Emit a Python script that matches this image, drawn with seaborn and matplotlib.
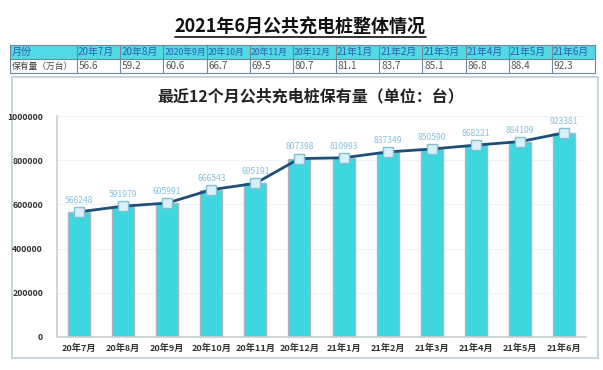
import numpy as np
import matplotlib
matplotlib.use("Agg")
import matplotlib.pyplot as plt
import seaborn as sns
from matplotlib.patches import Rectangle

# ---- data ----
table_months = ['20年7月', '20年8月', '2020年9月', '20年10月', '20年11月', '20年12月',
                '21年1月', '21年2月', '21年3月', '21年4月', '21年5月', '21年6月']
table_values = ['56.6', '59.2', '60.6', '66.7', '69.5', '80.7',
                '81.1', '83.7', '85.1', '86.8', '88.4', '92.3']
chart_months = ['20年7月', '20年8月', '20年9月', '20年10月', '20年11月', '20年12月',
                '21年1月', '21年2月', '21年3月', '21年4月', '21年5月', '21年6月']
chart_values = [566248, 591979, 605991, 666543, 695191, 807398,
                810993, 837349, 850590, 868221, 884109, 923381]
y_ticks = [0, 200000, 400000, 600000, 800000, 1000000]

sns.set_theme(style="white")
plt.rcParams['font.family'] = ['Noto Sans CJK SC', 'DejaVu Sans']

W, H = 603, 370
fig = plt.figure(figsize=(W / 100, H / 100), dpi=100)

# background layer in pixel coordinates: title, table, chart frame
bg = fig.add_axes([0, 0, 1, 1], zorder=0)
bg.set_xlim(0, W)
bg.set_ylim(H, 0)
bg.axis('off')

title = bg.text(300, 27, '2021年6月公共充电桩整体情况', ha='center', va='center',
                fontsize=13, fontweight='bold', color='#111111')

# table
cyan = '#52D9E6'
line_c = '#6F8A96'
col_edges = np.concatenate([[10], np.linspace(77, 595, 13)])
row_top, row_mid, row_bot = 45, 59, 73
bg.add_patch(Rectangle((10, row_top), 585, row_mid - row_top, facecolor=cyan, edgecolor='none'))
for x in col_edges:
    bg.plot([x, x], [row_top, row_bot], color=line_c, lw=0.8)
for y in (row_top, row_mid, row_bot):
    bg.plot([10, 595], [y, y], color=line_c, lw=0.8)

bg.text(col_edges[0] + 2, (row_top + row_mid) / 2, '月份', ha='left', va='center',
        fontsize=7.2, color='#2F5FB0')
bg.text(col_edges[0] + 2, (row_mid + row_bot) / 2, '保有量（万台）', ha='left', va='center',
        fontsize=6.3, color='#444444')
for i, (m, v) in enumerate(zip(table_months, table_values)):
    x0 = col_edges[i + 1] + 1
    bg.text(x0, (row_top + row_mid) / 2, m, ha='left', va='center',
            fontsize=7.1 if len(m) < 6 else 6.3, color='#2F5FB0')
    bg.text(x0 + 1, (row_mid + row_bot) / 2, v, ha='left', va='center',
            fontsize=7.2, color='#555555')

# chart frame
bg.add_patch(Rectangle((12, 77), 586, 281, facecolor='white', edgecolor='#C9D6DE', lw=1.5))
bg.text(311, 96, '最近12个月公共充电桩保有量（单位：台）', ha='center', va='center',
        fontsize=11.5, fontweight='bold', color='#222222')

# main chart
ax = fig.add_axes([57 / W, 1 - 337 / H, (586 - 57) / W, (337 - 116) / H], zorder=1)
ax.patch.set_alpha(0)
sns.barplot(x=chart_months, y=chart_values, ax=ax, color='#3ED6DF', width=0.5,
            edgecolor='#A8B8C2', linewidth=1, saturation=1)
pos = np.arange(len(chart_values))
ax.plot(pos, chart_values, color='#1E4F7A', lw=2, zorder=3,
        marker='s', markersize=6.5, markerfacecolor='#D9F0F6', markeredgecolor='#86BFD4',
        markeredgewidth=1)
for i, v in enumerate(chart_values):
    ax.text(i, v + 32000, str(v), ha='center', va='bottom', fontsize=6.2,
            color='#86C3DC', zorder=4)

ax.set_ylim(0, 1000000)
ax.set_xlim(-0.5, len(chart_values) - 0.5)
ax.set_yticks(y_ticks)
ax.set_yticklabels([str(t) for t in y_ticks], fontsize=6.3, fontweight='bold', color='#333333')
ax.tick_params(axis='x', labelsize=6.6, colors='#333333', length=0, pad=5)
ax.tick_params(axis='y', length=0, pad=10)
for lab in ax.get_xticklabels():
    lab.set_fontweight('bold')
ax.set_xlabel('')
ax.set_ylabel('')
ax.yaxis.grid(True, color='#F0F3F5', lw=0.8)
ax.set_axisbelow(True)
for s in ['top', 'right']:
    ax.spines[s].set_visible(False)
ax.spines['left'].set_color('#C8CED2')
ax.spines['bottom'].set_color('#C8CED2')
ax.spines['left'].set_linewidth(1.2)
ax.spines['bottom'].set_linewidth(1.2)

# underline the main title
fig.canvas.draw()
bb = title.get_window_extent().transformed(bg.transData.inverted())
bg.plot([bb.x0, bb.x1], [37, 37], color='#111111', lw=1.2)

fig.savefig('out.png', dpi=100)
